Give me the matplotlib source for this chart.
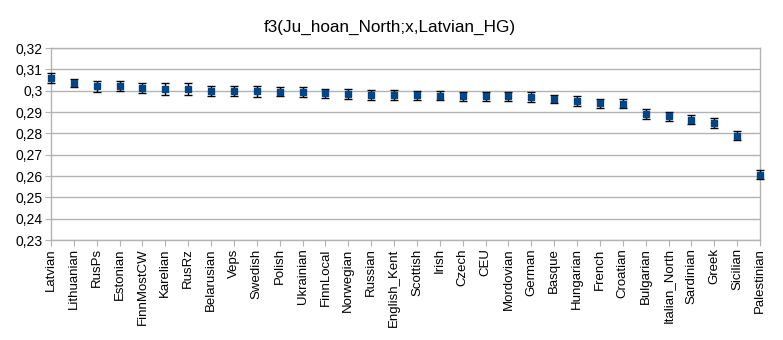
import matplotlib
matplotlib.use('Agg')
import matplotlib.pyplot as plt
from matplotlib.ticker import FuncFormatter, MultipleLocator

plt.rcParams['font.family'] = ['Liberation Sans', 'DejaVu Sans']

populations = ['Latvian', 'Lithuanian', 'RusPs', 'Estonian', 'FinnMostCW', 'Karelian',
               'RusRz', 'Belarusian', 'Veps', 'Swedish', 'Polish', 'Ukrainian',
               'FinnLocal', 'Norwegian', 'Russian', 'English_Kent', 'Scottish', 'Irish',
               'Czech', 'CEU', 'Mordovian', 'German', 'Basque', 'Hungarian', 'French',
               'Croatian', 'Bulgarian', 'Italian_North', 'Sardinian', 'Greek',
               'Sicilian', 'Palestinian']
f3_values = [0.3061, 0.3037, 0.3020, 0.3021, 0.3011, 0.3008,
             0.3008, 0.2997, 0.2997, 0.2997, 0.2995, 0.2992,
             0.2987, 0.2983, 0.2978, 0.2978, 0.2978, 0.2977,
             0.2973, 0.2973, 0.2973, 0.2969, 0.2961, 0.2950, 0.2942,
             0.2939, 0.2889, 0.2879, 0.2863, 0.2848,
             0.2788, 0.2607]
f3_errors = [0.0023, 0.0020, 0.0025, 0.0023, 0.0023, 0.0026,
             0.0028, 0.0023, 0.0023, 0.0026, 0.0021, 0.0023,
             0.0023, 0.0024, 0.0023, 0.0023, 0.0021, 0.0021,
             0.0023, 0.0023, 0.0023, 0.0023, 0.0021, 0.0023, 0.0021,
             0.0021, 0.0024, 0.0023, 0.0021, 0.0023,
             0.0021, 0.0021]

fig = plt.figure(figsize=(7.83, 3.40), dpi=100)
ax = fig.add_axes([51 / 783, 1 - 240 / 340, 709 / 783, 192 / 340])

x = list(range(len(populations)))
ax.errorbar(x, f3_values, yerr=f3_errors, fmt='none', ecolor='black',
            elinewidth=1.0, capsize=3, capthick=1.0, zorder=3, clip_on=False)
ax.plot(x, f3_values, 's', color='#004586', markersize=4, zorder=4, clip_on=False)

ax.set_xlim(0, len(populations) - 1)
ax.set_ylim(0.23, 0.32)
ax.yaxis.set_major_locator(MultipleLocator(0.01))
ax.yaxis.set_major_formatter(FuncFormatter(lambda v, p: ('%g' % round(v, 2)).replace('.', ',')))
ax.set_xticks(x)
ax.set_xticklabels(populations, rotation=90, fontsize=9.5)
ax.tick_params(axis='y', labelsize=10, length=4, color='#b3b3b3', pad=2)
ax.tick_params(axis='x', length=4, color='#b3b3b3', pad=2)

ax.grid(axis='y', color='#b3b3b3', linewidth=1)
ax.set_axisbelow(True)
for side in ['left', 'right', 'bottom', 'top']:
    ax.spines[side].set_color('#b3b3b3')
    ax.spines[side].set_linewidth(1)

fig.text(390 / 783, 1 - 27 / 340, 'f3(Ju_hoan_North;x,Latvian_HG)', ha='center',
         va='center', fontsize=12.3)

fig.savefig('out.png', dpi=100)
